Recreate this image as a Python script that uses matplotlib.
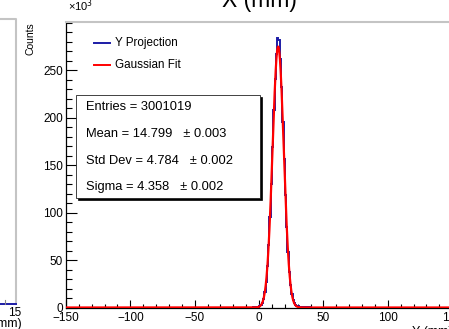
import numpy as np
import matplotlib
matplotlib.use("Agg")
import matplotlib.pyplot as plt
from matplotlib.lines import Line2D
from matplotlib.patches import Rectangle

plt.rcParams['font.family'] = ['Liberation Sans', 'DejaVu Sans']

# ---------------- data ----------------
x_min, x_max, bin_width = -150, 150, 1.0
hist_start = -5.0  # left edge of first non-empty bin listed below
hist_counts_k = [0.1, 0.15, 0.25, 0.4, 0.7, 1.2, 2.3, 4.6, 8.8, 15.9,
                 27.0, 43.5, 66.2, 95.4, 130.5, 168.8, 207.5, 241.0, 266.5, 284.0,
                 281.5, 262.0, 232.0, 195.5, 156.0, 118.5, 85.0, 58.0, 37.8, 23.5,
                 14.0, 8.2, 4.8, 3.0, 2.0, 1.4, 1.0, 0.8, 0.6, 0.45,
                 0.35, 0.25, 0.2, 0.15, 0.1]
fit_amp_k = 274.7
fit_mean = 14.799
fit_sigma = 4.358
stats_lines = ["Entries = 3001019",
               "Mean = 14.799   \u00b1 0.003",
               "Std Dev = 4.784   \u00b1 0.002",
               "Sigma = 4.358   \u00b1 0.002"]
y_ticks = [0, 50, 100, 150, 200, 250]
x_ticks = [-150, -100, -50, 0, 50, 100, 150]
y_top = 300.6

# ---------------- figure ----------------
W, H = 449, 329
fig = plt.figure(figsize=(W / 100, H / 100), dpi=100)

def fx(px):
    return px / W

def fy(py):
    return 1 - py / H

ax_l, ax_r, ax_t, ax_b = 66.0, 452.2, 22.0, 307.5
ax = fig.add_axes([fx(ax_l), fy(ax_b), (ax_r - ax_l) / W, (ax_b - ax_t) / H])

edges = np.arange(x_min, x_max + bin_width, bin_width)
counts = np.zeros(len(edges) - 1)
i0 = int(round((hist_start - x_min) / bin_width))
counts[i0:i0 + len(hist_counts_k)] = hist_counts_k

blue = '#1c1ca6'
ax.stairs(counts, edges, color=blue, lw=1.4, zorder=3)

xf = np.linspace(x_min, x_max, 6001)
yf = fit_amp_k * np.exp(-0.5 * ((xf - fit_mean) / fit_sigma) ** 2)
ax.plot(xf, yf, color='#ff0000', lw=1.6, zorder=4)

ax.set_xlim(x_min, x_max)
ax.set_ylim(0, y_top)
ax.set_xticks(x_ticks)
ax.set_yticks(y_ticks)
ax.set_xticks(np.arange(x_min, x_max + 1, 10), minor=True)
ax.set_yticks(np.arange(0, y_top, 10), minor=True)
ax.tick_params(axis='y', which='major', direction='in', length=7.9, width=0.8,
               labelsize=8.5, pad=2)
ax.tick_params(axis='y', which='minor', direction='in', length=4.0, width=0.8)
ax.tick_params(axis='x', which='major', direction='in', length=5.8, width=0.8,
               labelsize=8.5, pad=3)
ax.tick_params(axis='x', which='minor', direction='in', length=2.9, width=0.8)
ax.spines['right'].set_visible(False)
ax.spines['top'].set_color('#c4c4c4')
ax.spines['top'].set_linewidth(1.5)
ax.spines['left'].set_linewidth(0.9)
ax.spines['bottom'].set_linewidth(0.9)

# texts around the axes
fig.text(fx(68), fy(11), "\u00d710$^{3}$", fontsize=8, ha='left', va='baseline')
fig.text(fx(31), fy(22), "Counts", rotation=90, fontsize=7.5, ha='center', va='top')
fig.text(fx(259.5), fy(7), "X (mm)", fontsize=16.5, ha='center', va='baseline')
fig.text(fx(452), fy(326), "Y (mm)", fontsize=9, ha='right', va='top')

# legend
fig.add_artist(Line2D([fx(94), fx(110)], [fy(43), fy(43)], color=blue, lw=1.4))
fig.text(fx(115), fy(43), "Y Projection", fontsize=8.4, ha='left', va='center')
fig.add_artist(Line2D([fx(94), fx(110)], [fy(65), fy(65)], color='#ff0000', lw=1.4))
fig.text(fx(115), fy(65), "Gaussian Fit", fontsize=8.4, ha='left', va='center')

# stats box with shadow
bx0, by0, bx1, by1 = 76, 95, 260, 198
fig.add_artist(Rectangle((fx(bx0 + 2), fy(by1 + 2)), (bx1 - bx0) / W, (by1 - by0) / H,
                         transform=fig.transFigure, facecolor='black', edgecolor='black',
                         lw=0.5, zorder=5))
fig.add_artist(Rectangle((fx(bx0), fy(by1)), (bx1 - bx0) / W, (by1 - by0) / H,
                         transform=fig.transFigure, facecolor='white', edgecolor='#222222',
                         lw=0.6, zorder=6))
for line, ypx in zip(stats_lines, [107, 134, 161, 187]):
    fig.text(fx(86), fy(ypx), line, fontsize=9.3, ha='left', va='center', zorder=7)

# fragment of the neighbouring pad on the left
fig.add_artist(Line2D([fx(0), fx(16), fx(16)], [fy(19), fy(19), fy(304)],
                      color='#c4c4c4', lw=1.5))
fig.add_artist(Line2D([fx(0), fx(16)], [fy(304), fy(304)], color=blue, lw=1.4))
fig.add_artist(Line2D([fx(5), fx(5)], [fy(304), fy(300)], color='#888888', lw=0.8))
fig.text(fx(15), fy(313), "15", fontsize=8.5, ha='center', va='center')
fig.text(fx(22), fy(324), "X (mm)", fontsize=9, ha='right', va='center')

fig.savefig("out.png", dpi=100)
